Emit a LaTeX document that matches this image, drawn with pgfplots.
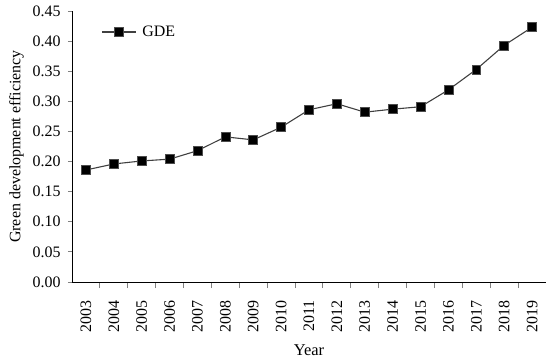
\documentclass[border=0pt]{standalone}
\usepackage{pgfplots}
\pgfplotsset{compat=1.18}
\usepackage{fontspec}
\setmainfont{Liberation Serif}
\begin{document}
\begin{tikzpicture}
\path[use as bounding box] (-72bp,-79bp) rectangle (478bp,282bp);
\begin{axis}[
  at={(0,0)}, anchor=south west,
  scale only axis, width=474bp, height=271bp,
  axis lines=left, axis line style={-, line width=0.9pt},
  xmin=-0.5, xmax=16.5, ymin=0, ymax=0.45,
  xtick={0,...,16},
  xticklabels={2003,2004,2005,2006,2007,2008,2009,2010,2011,2012,2013,2014,2015,2016,2017,2018,2019},
  minor xtick={0.5,1.5,...,15.5},
  major x tick style={draw=none},
  minor x tick style={line width=0.9pt},
  minor tick length=6bp,
  ytick={0,0.05,...,0.451},
  major tick length=4bp,
  y tick style={line width=0.9pt},
  tick align=outside,
  yticklabel style={/pgf/number format/fixed, /pgf/number format/fixed zerofill, /pgf/number format/precision=2, font=\fontsize{16}{16}\selectfont},
  yticklabel shift=4bp,
  /pgf/number format/assume math mode=true,
  xticklabel style={rotate=90, anchor=east, font=\fontsize{16}{16}\selectfont},
  xticklabel shift=11bp,
  xlabel={Year}, ylabel={Green development efficiency},
  xlabel style={font=\fontsize{16.5}{16.5}\selectfont, yshift=-5bp},
  ylabel style={font=\fontsize{16}{16}\selectfont, yshift=2bp},
  legend style={draw=none, fill=none, at={(0.055,0.96)}, anchor=north west, font=\fontsize{16}{16}\selectfont},
  legend image code/.code={\draw[mark repeat=2,mark phase=2] plot coordinates {(0cm,0cm) (0.6cm,0cm) (1.2cm,0cm)};},
  legend cell align=left,
]
\addplot[black!75, line width=1.1pt, mark=square*, mark size=4.5pt, mark options={fill=black, draw=black!70, line width=0.6pt}]
coordinates {
(0,0.186) (1,0.196) (2,0.201) (3,0.204) (4,0.218) (5,0.241) (6,0.236) (7,0.257)
(8,0.286) (9,0.296) (10,0.282) (11,0.287) (12,0.291) (13,0.319) (14,0.353) (15,0.393) (16,0.423)
};
\addlegendentry{\hspace{4bp}GDE}
\end{axis}
\end{tikzpicture}
\end{document}
